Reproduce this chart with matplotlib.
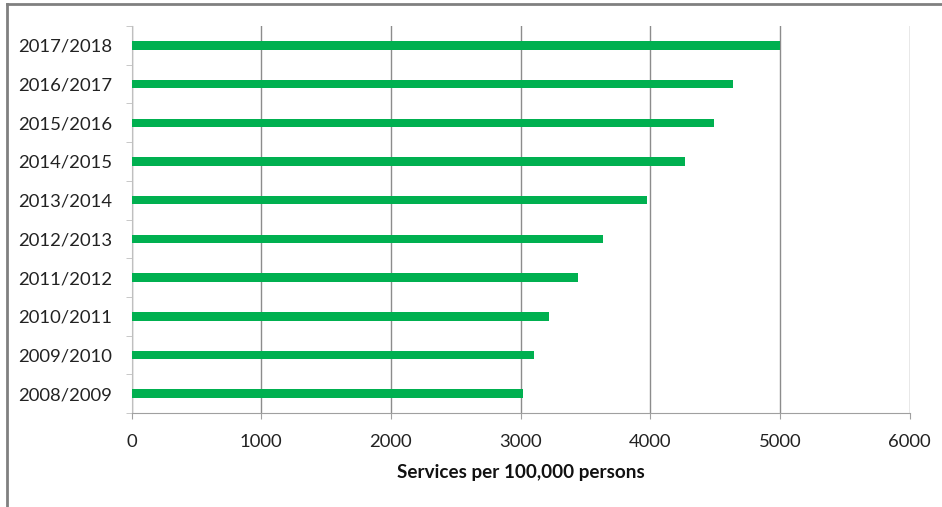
import matplotlib
matplotlib.use('Agg')
import matplotlib.pyplot as plt
from matplotlib.lines import Line2D

years = ['2008/2009', '2009/2010', '2010/2011', '2011/2012', '2012/2013',
         '2013/2014', '2014/2015', '2015/2016', '2016/2017', '2017/2018']
services = [3020, 3102, 3218, 3444, 3636, 3977, 4267, 4495, 4641, 5000]
x_ticks = [0, 1000, 2000, 3000, 4000, 5000, 6000]

plt.rcParams['font.family'] = ['Lato', 'DejaVu Sans']

fig = plt.figure(figsize=(9.42, 5.07), dpi=100)
ax = fig.add_axes([0.1397, 0.1854, 0.8259, 0.7633])

ypos = list(range(len(years)))
ax.barh(ypos, services, height=0.22, color='#00B050', zorder=3)

ax.set_xlim(0, 6000)
ax.set_ylim(-0.5, len(years) - 0.5)
ax.set_xticks(x_ticks)
ax.set_xticklabels([str(t) for t in x_ticks], fontsize=13.3, color='#222222')
ax.set_yticks(ypos)
ax.set_yticklabels(years, fontsize=13.3, color='#222222')
ax.set_yticks([i - 0.5 for i in range(len(years) + 1)], minor=True)

ax.tick_params(axis='y', which='major', length=0, pad=14)
ax.tick_params(axis='y', which='minor', length=4.5, color='#BFBFBF', direction='out')
ax.tick_params(axis='x', which='major', length=4.5, color='#A0A0A0', pad=10.5)

ax.grid(axis='x', color='#8C8C8C', linewidth=1, zorder=0)
for side in ['top', 'right']:
    ax.spines[side].set_visible(False)
ax.spines['left'].set_color('#BFBFBF')
ax.spines['bottom'].set_color('#A0A0A0')

ax.set_xlabel('Services per 100,000 persons', fontsize=13.6, fontweight='bold',
              color='#111111', labelpad=10)

# outer chart border (left and top edges visible)
fig.add_artist(Line2D([7.3 / 942, 7.3 / 942], [0, 1 - 4 / 507],
                      transform=fig.transFigure, color='#808080', linewidth=2))
fig.add_artist(Line2D([7.3 / 942, 1], [1 - 4 / 507, 1 - 4 / 507],
                      transform=fig.transFigure, color='#808080', linewidth=2))

fig.savefig('out.png', dpi=100)
